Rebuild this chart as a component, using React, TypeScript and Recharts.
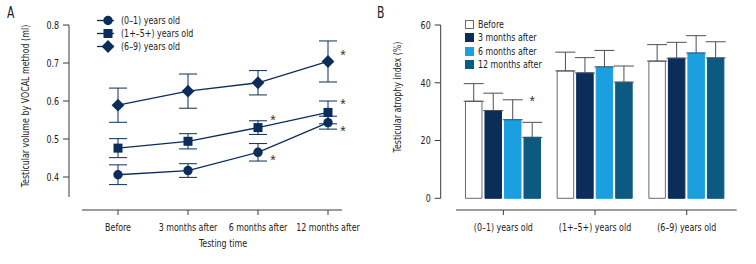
import React from 'react'
import { ComposedChart, BarChart, Bar, Line, XAxis, YAxis, ErrorBar, ReferenceLine, LabelList } from 'recharts'

const FONT = "'DejaVu Sans Condensed', 'DejaVu Sans', sans-serif"
const NAVY = '#0b2d5b'
const AXIS = '#3a3a3a'
const TEXT = '#222'
const SQUEEZE = 0.8 // the original uses a condensed face, squeeze the glyphs horizontally

// panel A
const categories = ['Before', '3 months after', '6 months after', '12 months after']
const age01 = [0.406, 0.417, 0.465, 0.543]
const err01 = [0.026, 0.018, 0.023, 0.017]
const sig01 = [false, false, true, true]
const age15 = [0.476, 0.494, 0.53, 0.57]
const err15 = [0.025, 0.02, 0.018, 0.03]
const sig15 = [false, false, true, true]
const age69 = [0.589, 0.626, 0.648, 0.704]
const err69 = [0.045, 0.045, 0.032, 0.054]
const sig69 = [false, false, false, true]
const volumeTicks = [0.4, 0.5, 0.6, 0.7, 0.8]

// panel B
const groups = ['(0–1) years old', '(1+–5+) years old', '(6–9) years old']
const before = [33.6, 44.1, 47.5]
const beforeErr = [6.1, 6.5, 5.7]
const m3 = [30.4, 43.4, 48.5]
const m3Err = [6.0, 5.3, 5.5]
const m6 = [27.2, 45.5, 50.3]
const m6Err = [6.9, 5.7, 6.0]
const m12 = [21.1, 40.2, 48.6]
const m12Err = [5.2, 5.6, 5.6]
const sig12 = [true, false, false]
const atrophyTicks = [0, 20, 40, 60]

const lineData = categories.map((name, i) => ({
  i, name,
  a: age01[i], aErr: err01[i], aSig: sig01[i] ? '*' : null,
  b: age15[i], bErr: err15[i], bSig: sig15[i] ? '*' : null,
  c: age69[i], cErr: err69[i], cSig: sig69[i] ? '*' : null,
}))

const barData = groups.map((name, i) => ({
  i, name,
  before: before[i], beforeErr: [0, beforeErr[i]],
  m3: m3[i], m3Err: [0, m3Err[i]],
  m6: m6[i], m6Err: [0, m6Err[i]],
  m12: m12[i], m12Err: [0, m12Err[i]], m12Sig: sig12[i] ? '*' : null,
}))

const barSeries = [
  { key: 'before', label: 'Before', fill: '#ffffff', stroke: '#6b6b6b' },
  { key: 'm3', label: '3 months after', fill: '#0a2d5a', stroke: '#0a2d5a' },
  { key: 'm6', label: '6 months after', fill: '#1a9fe0', stroke: '#1a9fe0' },
  { key: 'm12', label: '12 months after', fill: '#0c5a82', stroke: '#0c5a82' },
]

const Circle = ({ cx, cy }: any) => <circle cx={cx} cy={cy} r={4.7} fill={NAVY} />
const Square = ({ cx, cy }: any) => <rect x={cx - 4.5} y={cy - 4.5} width={9} height={9} fill={NAVY} />
const Diamond = ({ cx, cy }: any) => (
  <polygon points={`${cx},${cy - 6.4} ${cx + 6.4},${cy} ${cx},${cy + 6.4} ${cx - 6.4},${cy}`} fill={NAVY} />
)

// significance mark
const Star = ({ x, y }: { x: number; y: number }) => (
  <g>
    <text x={x} y={y + 7} textAnchor="middle" fontSize={14} fontFamily="'Liberation Sans', sans-serif"
      style={{ fill: '#333', stroke: 'none' }}>*</text>
  </g>
)

const lineSeries = [
  { key: 'a', label: '(0–1) years old', Dot: Circle, dy: 6 },
  { key: 'b', label: '(1+–5+) years old', Dot: Square, dy: -10 },
  { key: 'c', label: '(6–9) years old', Dot: Diamond, dy: -8 },
]

const condTick = (fmt: (v: any) => string, axis: 'x' | 'y') => (p: any) => (
  <g transform={`translate(${p.x},${p.y})`}>
    <text transform={`scale(${SQUEEZE},1)`} textAnchor={axis === 'x' ? 'middle' : 'end'} dy={axis === 'x' ? '0.71em' : '0.355em'}
      fill={TEXT} fontSize={11} fontFamily={FONT}>{fmt(p.payload.value)}</text>
  </g>
)

const squeezed = (origin: string) => ({ display: 'inline-block', transform: `scaleX(${SQUEEZE})`, transformOrigin: origin, whiteSpace: 'nowrap' as const })

export default function App() {
  return (
    <div style={{ position: 'absolute', left: 0, top: 0, width: 756, height: 264, background: '#fff', fontFamily: FONT, color: TEXT }}>
      <div style={{ position: 'absolute', left: 7, top: 4, fontSize: 15, ...squeezed('left') }}>A</div>
      <div style={{ position: 'absolute', left: 377, top: 4, fontSize: 15, ...squeezed('left') }}>B</div>

      <div style={{ position: 'absolute', left: 0, top: 0 }}>
        <ComposedChart width={380} height={264} data={lineData} margin={{ top: 25, right: 38, bottom: 0, left: 0 }}>
          <XAxis type="number" dataKey="i" domain={[-0.7, 3.2]} ticks={[0, 1, 2, 3]} interval={0} allowDataOverflow
            axisLine={false} stroke={AXIS} tickSize={5} tickMargin={8} height={54} tick={condTick((v) => categories[v], 'x')} />
          <YAxis type="number" domain={[0.3132, 0.8]} ticks={volumeTicks} interval={0} allowDataOverflow
            axisLine={false} stroke={AXIS} tickSize={6} tickMargin={4} width={69} tick={condTick((v) => v.toFixed(1), 'y')} />
          <ReferenceLine segment={[{ x: -0.7, y: 0.3474 }, { x: -0.7, y: 0.8 }]} stroke={AXIS} ifOverflow="visible" />
          <ReferenceLine segment={[{ x: -0.514, y: 0.3132 }, { x: 3.2, y: 0.3132 }]} stroke={AXIS} ifOverflow="visible" />
          {lineSeries.map((s) => (
            <Line key={s.key} dataKey={s.key} stroke={NAVY} strokeWidth={1.3} isAnimationActive={false}
              dot={(p: any) => <s.Dot key={p.index} cx={p.cx} cy={p.cy} />} activeDot={false}>
              <ErrorBar dataKey={`${s.key}Err`} width={9} stroke={NAVY} strokeWidth={1} />
              <LabelList dataKey={`${s.key}Sig`} content={(p: any) => (p.value ? <Star x={p.x + 15} y={p.y + s.dy} /> : null)} />
            </Line>
          ))}
        </ComposedChart>
      </div>

      <div style={{ position: 'absolute', left: 25, top: 105.5, transform: `translate(-50%, -50%) rotate(-90deg) scaleX(${SQUEEZE})`, whiteSpace: 'nowrap', fontSize: 11 }}>
        Testicular volume by VOCAL method (ml)
      </div>
      <div style={{ position: 'absolute', left: 222.5, top: 243, transform: `translate(-50%, -50%) scaleX(${SQUEEZE})`, whiteSpace: 'nowrap', fontSize: 11 }}>
        Testing time
      </div>

      <div style={{ position: 'absolute', left: 97, top: 13.5, fontSize: 11 }}>
        {lineSeries.map((s) => (
          <div key={s.key} style={{ display: 'flex', alignItems: 'center', height: 13.3 }}>
            <svg width={24} height={13} style={{ display: 'block', flex: 'none' }}>
              <line x1={0} y1={6.5} x2={17} y2={6.5} stroke={NAVY} strokeWidth={1.3} />
              <s.Dot cx={11} cy={6.5} />
            </svg>
            <span style={squeezed('left')}>{s.label}</span>
          </div>
        ))}
      </div>

      <div style={{ position: 'absolute', left: 380, top: 0 }}>
        <BarChart width={376} height={264} data={barData} margin={{ top: 25, right: 19.3, bottom: 0, left: 0 }} barGap={3}>
          <XAxis type="number" dataKey="i" domain={[-0.683, 2.545]} ticks={[0, 1, 2]} interval={0} allowDataOverflow
            axisLine={false} stroke={AXIS} tickSize={5} tickMargin={8} height={54} tick={condTick((v) => groups[v], 'x')} />
          <YAxis type="number" domain={[-4.05, 60]} ticks={atrophyTicks} interval={0} allowDataOverflow
            axisLine={false} stroke={AXIS} tickSize={6} tickMargin={4} width={60.7} tick={condTick((v) => String(v), 'y')} />
          <ReferenceLine segment={[{ x: -0.683, y: 0 }, { x: -0.683, y: 60 }]} stroke={AXIS} ifOverflow="visible" />
          <ReferenceLine segment={[{ x: -0.516, y: -4.05 }, { x: 2.545, y: -4.05 }]} stroke={AXIS} ifOverflow="visible" />
          {barSeries.map((s) => (
            <Bar key={s.key} dataKey={s.key} fill={s.fill} stroke={s.stroke} strokeWidth={1} barSize={16.5} isAnimationActive={false}>
              <ErrorBar dataKey={`${s.key}Err`} width={10} stroke="#4a5058" strokeWidth={1} />
              {s.key === 'm12' && (
                <LabelList dataKey="m12Sig" content={(p: any) => (p.value ? <Star x={p.x + p.width / 2} y={p.y - 38} /> : null)} />
              )}
            </Bar>
          ))}
        </BarChart>
      </div>

      <div style={{ position: 'absolute', left: 397, top: 97, transform: `translate(-50%, -50%) rotate(-90deg) scaleX(${SQUEEZE})`, whiteSpace: 'nowrap', fontSize: 11 }}>
        Testicular atrophy index (%)
      </div>

      <div style={{ position: 'absolute', left: 465, top: 17.5, fontSize: 11 }}>
        {barSeries.map((s) => (
          <div key={s.key} style={{ display: 'flex', alignItems: 'center', height: 13.5 }}>
            <span style={{ display: 'inline-block', flex: 'none', width: 9, height: 9, boxSizing: 'border-box', background: s.fill, border: `1px solid ${s.stroke}` }} />
            <span style={{ ...squeezed('left'), marginLeft: 4 }}>{s.label}</span>
          </div>
        ))}
      </div>
    </div>
  )
}
